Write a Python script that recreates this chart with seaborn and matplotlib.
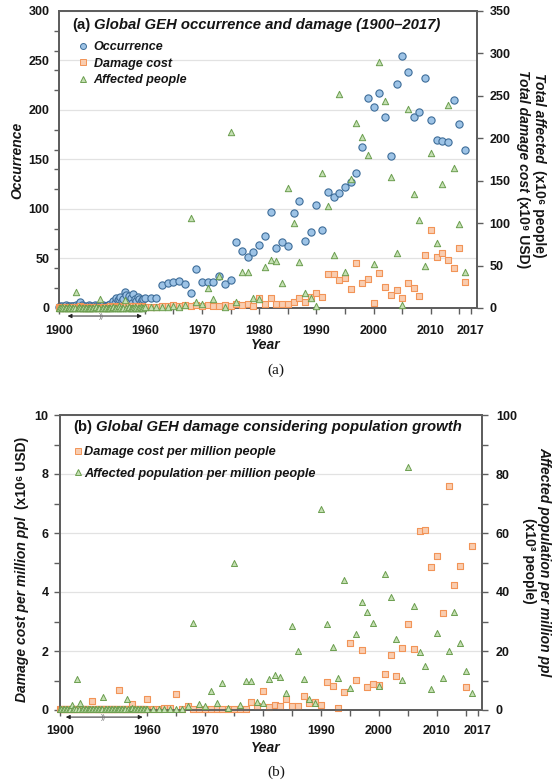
import numpy as np
import pandas as pd
import matplotlib
matplotlib.use("Agg")
import matplotlib.pyplot as plt
import seaborn as sns
from matplotlib.lines import Line2D
from matplotlib.ticker import MultipleLocator, FixedLocator

# ---------------------------------------------------------------- data
years = list(range(1900, 2017))

occurrence = [
    1, 2, 2, 1, 2, 3, 2, 1, 2, 2,
    2, 1, 3, 2, 4, 6, 3, 2, 2, 1,
    2, 3, 2, 1, 2, 3, 2, 2, 1, 2,
    2, 3, 2, 2, 3, 2, 4, 3, 7, 5,
    10, 8, 9, 11, 7, 9, 16, 13, 8, 12,
    10, 5, 14, 9, 7, 11, 9, 6, 8, 9,
    10, 10, 10, 23, 25, 26, 27, 24, 15, 39,
    26, 26, 26, 32, 24, 28, 67, 58, 52, 57,
    64, 73, 97, 61, 67, 63, 96, 108, 68, 77,
    104, 79, 117, 112, 116, 122, 127, 136, 163, 212,
    203, 217, 193, 154, 226, 255, 238, 193, 198, 232,
    190, 170, 169, 168, 210, 186, 160,
]

damage_cost = [
    1, 0, 1, 0, 1, 1, 0, 1, 0, 1,
    1, 0, 1, 1, 0, 2, 1, 0, 1, 0,
    1, 1, 0, 1, 0, 1, 1, 0, 1, 0,
    1, 0, 1, 1, 0, 1, 2, 1, 1, 2,
    1, 2, 1, 1, 2, 1, 3, 2, 1, 2,
    2, 1, 2, 1, 2, 1, 2, 1, 2, 1,
    1, 1, 1, 2, 2, 4, 2, 3, 2, 3,
    2, 3, 2, 2, 3, 2, 5, 3, 5, 2,
    12, 5, 12, 5, 5, 5, 7, 12, 7, 13,
    18, 13, 40, 40, 33, 35, 22, 53, 30, 34,
    6, 41, 25, 15, 21, 12, 29, 23, 14, 63,
    92, 60, 65, 56, 47, 71, 31,
]

affected_people = [
    0, 0, 1, 0, 0, 0, 0, 1, 0, 0,
    0, 0, 19, 0, 1, 0, 0, 0, 0, 0,
    0, 0, 0, 0, 0, 0, 1, 0, 0, 11,
    0, 0, 0, 0, 0, 0, 0, 0, 1, 0,
    0, 0, 2, 0, 0, 0, 9, 0, 0, 1,
    0, 0, 0, 1, 0, 0, 0, 1, 0, 0,
    1, 1, 1, 1, 1, 2, 1, 3, 106, 7,
    5, 24, 11, 38, 1, 207, 7, 42, 42, 12,
    11, 48, 57, 55, 29, 141, 100, 54, 18, 12,
    2, 159, 120, 62, 252, 43, 152, 218, 201, 180,
    52, 290, 244, 154, 65, 3, 235, 134, 104, 50,
    183, 77, 146, 239, 165, 99, 42,
]

damage_per_million = [
    0.02, 0.03, 0.02, 0.02, 0.03, 0.02, 0.02, 0.03, 0.02, 0.02,
    0.02, 0.03, 0.02, 0.02, 0.03, 0.02, 0.02, 0.03, 0.02, 0.02,
    0.03, 0.02, 0.30, 0.02, 0.03, 0.02, 0.02, 0.03, 0.02, 0.02,
    0.03, 0.02, 0.02, 0.03, 0.02, 0.02, 0.03, 0.02, 0.02, 0.03,
    0.02, 0.68, 0.02, 0.03, 0.02, 0.02, 0.03, 0.02, 0.02, 0.03,
    0.20, 0.02, 0.03, 0.02, 0.02, 0.03, 0.02, 0.02, 0.03, 0.02,
    0.37, 0.05, 0.05, 0.08, 0.08, 0.55, 0.05, 0.14, 0.05, 0.05,
    0.02, 0.02, 0.02, 0.02, 0.03, 0.03, 0.02, 0.03, 0.27, 0.14,
    0.65, 0.10, 0.17, 0.14, 0.37, 0.14, 0.14, 0.47, 0.23, 0.27,
    0.17, 0.95, 0.81, 0.07, 0.61, 2.27, 1.02, 2.03, 0.78, 0.88,
    0.85, 1.22, 1.86, 1.15, 2.10, 2.92, 2.07, 6.07, 6.10, 4.85,
    5.22, 3.29, 7.59, 4.24, 4.88, 0.78, 5.56,
]

affected_per_million = [
    0.2, 0.2, 0.3, 0.2, 0.2, 0.3, 0.2, 0.2, 1.7, 0.2,
    0.2, 0.3, 10.5, 0.2, 2.4, 0.2, 0.3, 0.2, 0.2, 0.3,
    0.2, 0.2, 0.3, 0.2, 0.2, 0.3, 0.2, 0.2, 0.3, 0.2,
    4.4, 0.2, 0.3, 0.2, 0.2, 0.3, 0.2, 0.2, 0.3, 0.2,
    0.2, 0.3, 0.2, 0.2, 0.3, 0.2, 3.7, 0.2, 0.3, 0.2,
    0.7, 0.2, 0.3, 0.2, 0.2, 0.3, 0.2, 0.2, 0.3, 0.2,
    0.5, 0.5, 0.3, 0.3, 0.5, 0.3, 0.3, 1.4, 29.5, 2.0,
    1.4, 6.4, 2.4, 9.2, 0.7, 50.0, 1.7, 9.8, 9.8, 2.7,
    2.4, 10.5, 11.9, 11.2, 5.8, 28.5, 20.0, 10.5, 3.7, 2.4,
    68.0, 29.0, 21.5, 10.8, 44.0, 7.5, 25.8, 36.5, 33.2, 29.5,
    8.1, 46.0, 38.3, 24.0, 10.2, 82.4, 35.3, 19.7, 14.9, 7.1,
    26.1, 10.8, 20.0, 33.2, 22.7, 13.2, 5.8,
]

x_ticks = [1900, 1960, 1970, 1980, 1990, 2000, 2010, 2017]
x_tick_labels = [str(t) for t in x_ticks]

df = pd.DataFrame({
    "year": years,
    "occurrence": occurrence,
    "damage_cost": damage_cost,
    "affected_people": affected_people,
    "damage_per_million": damage_per_million,
    "affected_per_million": affected_per_million,
})

# ---------------------------------------------------------------- style
W, H = 552, 784
sns.set_theme(style="white")
plt.rcParams["font.family"] = ["Liberation Sans", "DejaVu Sans"]
plt.rcParams["font.weight"] = "bold"
plt.rcParams["axes.unicode_minus"] = False

BLUE_FACE, BLUE_EDGE = "#9dc3e6", "#3e6d99"
ORANGE_FACE, ORANGE_EDGE = "#f9cdb0", "#f29457"
GREEN_FACE, GREEN_EDGE = "#c4dfb2", "#6b9e4f"
SPINE = "#5e5e5e"
GRID = "#e2e2e2"
INK = "#151515"

# the years before 1960 are squeezed into a short stretch of the axis
SQUEEZE = 0.25


def fwd(x):
    x = np.asarray(x, dtype=float)
    return np.where(x < 1960, (x - 1900) * SQUEEZE, 60 * SQUEEZE + (x - 1960))


def inv(u):
    u = np.asarray(u, dtype=float)
    return np.where(u < 60 * SQUEEZE, 1900 + u / SQUEEZE, 1960 + u - 60 * SQUEEZE)


def box(left, top, right, bottom):
    return [left / W, 1 - bottom / H, (right - left) / W, (bottom - top) / H]


def runs_text(fig, x, y, runs, rotation=0, size=10, gap=0.0):
    """Write consecutive text pieces with different styles along one line."""
    renderer = fig.canvas.get_renderer()
    ang = np.deg2rad(rotation)
    dx, dy = np.cos(ang), np.sin(ang)
    for s, style in runs:
        t = fig.text(x / W, 1 - y / H, s, rotation=rotation,
                     rotation_mode="anchor", ha="left", va="baseline",
                     fontsize=size, fontweight="bold", fontstyle=style,
                     color=INK)
        bb = t.get_window_extent(renderer)
        length = (bb.width if rotation % 180 == 0 else bb.height) + gap
        x += dx * length
        y -= dy * length


def style_pair(ax, ax2, xmax, xpad):
    ax.set_xscale("function", functions=(fwd, inv))
    ax.set_xlim(1900, xmax)
    for a in (ax, ax2):
        for s in a.spines.values():
            s.set_color(SPINE)
            s.set_linewidth(1.3)
        a.set_xlabel("")
        a.set_ylabel("")
    ax.set_xticks(x_ticks, labels=x_tick_labels)
    ax.xaxis.set_minor_locator(FixedLocator(list(range(1965, 2016, 10))))
    ax.tick_params(axis="x", which="both", direction="out", length=4,
                   width=1, color=SPINE, pad=xpad, labelsize=9,
                   labelcolor=INK, bottom=True)
    ax.grid(axis="y", which="major", color=GRID, linewidth=0.9)
    ax.grid(axis="x", visible=False)
    ax.set_axisbelow(True)


def break_arrow(ax, x0, x1, yfrac):
    tr = ax.get_xaxis_transform()
    ax.annotate("", xy=(x0, yfrac), xytext=(x1, yfrac), xycoords=tr,
                textcoords=tr, annotation_clip=False,
                arrowprops=dict(arrowstyle="<|-|>", lw=0.7, color="#222222",
                                mutation_scale=6, shrinkA=0, shrinkB=0))
    ax.text(1930, yfrac, "))", transform=tr, ha="center", va="center",
            fontsize=5.5, color="#777777", fontweight="normal",
            clip_on=False)


fig = plt.figure(figsize=(W / 100, H / 100), dpi=100)

# ---------------------------------------------------------------- panel (a)
ax = fig.add_axes(box(59, 11, 477, 308))
ax2 = ax.twinx()

sns.scatterplot(data=df, x="year", y="occurrence", ax=ax, marker="o", s=27,
                color=BLUE_FACE, edgecolor=BLUE_EDGE, linewidth=0.8,
                clip_on=False, legend=False, zorder=3)
sns.scatterplot(data=df, x="year", y="damage_cost", ax=ax2, marker="s", s=19,
                color=ORANGE_FACE, edgecolor=ORANGE_EDGE, linewidth=0.8,
                clip_on=False, legend=False, zorder=3)
sns.scatterplot(data=df, x="year", y="affected_people", ax=ax2, marker="^",
                s=21, color=GREEN_FACE, edgecolor=GREEN_EDGE, linewidth=0.7,
                clip_on=False, legend=False, zorder=4)

style_pair(ax, ax2, 2018.07, 8)
ax.set_ylim(0, 300)
ax.yaxis.set_major_locator(MultipleLocator(50))
ax.yaxis.set_minor_locator(MultipleLocator(20))
ax.tick_params(axis="y", which="major", length=0, pad=7, labelsize=9,
               labelcolor=INK, left=True)
ax.tick_params(axis="y", which="minor", direction="out", length=3.5,
               width=1, color=SPINE, left=True)
ax2.set_ylim(0, 350)
ax2.yaxis.set_major_locator(MultipleLocator(50))
ax2.tick_params(axis="y", which="major", direction="out", length=4, width=1,
                color=SPINE, pad=5, labelsize=9, labelcolor=INK, right=True)
break_arrow(ax, 1906, 1958, -0.027)

handles_a = [
    Line2D([], [], ls="", marker="o", markersize=4.3, mfc=BLUE_FACE,
           mec=BLUE_EDGE, mew=0.7),
    Line2D([], [], ls="", marker="s", markersize=3.8, mfc=ORANGE_FACE,
           mec=ORANGE_EDGE, mew=0.7),
    Line2D([], [], ls="", marker="^", markersize=4.3, mfc=GREEN_FACE,
           mec=GREEN_EDGE, mew=0.7),
]
leg_a = ax2.legend(handles_a, ["Occurrence", "Damage cost", "Affected people"],
                   loc="upper left", bbox_to_anchor=(78 / W, 1 - 41 / H),
                   bbox_transform=fig.transFigure, frameon=False,
                   borderpad=0, borderaxespad=0, handlelength=0.8,
                   handletextpad=0.45, labelspacing=0.36,
                   prop=dict(size=9, weight="bold", style="italic"))
for t in leg_a.get_texts():
    t.set_color(INK)

runs_text(fig, 72, 29, [("(a)", "normal"),
                        ("Global GEH occurrence and damage (1900\u20132017)",
                         "italic")], size=10.7, gap=4)
fig.text(17 / W, 1 - 160 / H, "Occurrence", rotation=90, ha="center",
         va="center", fontsize=10, fontstyle="italic", color=INK)
fig.text(266 / W, 1 - 345 / H, "Year", ha="center", va="center",
         fontsize=10, fontstyle="italic", color=INK)
runs_text(fig, 535, 73, [("Total affected", "italic"),
                         ("(x10\u2076 people)", "normal")],
          rotation=270, size=10, gap=7)
runs_text(fig, 519, 70, [("Total damage cost", "italic"),
                         ("(x10\u2079 USD)", "normal")],
          rotation=270, size=10, gap=4)
fig.text(276 / W, 1 - 370 / H, "(a)", ha="center", va="center",
         fontsize=11, fontweight="normal", family="Liberation Serif",
         color=INK)

# ---------------------------------------------------------------- panel (b)
bx = fig.add_axes(box(60, 415, 482, 710))
bx2 = bx.twinx()

sns.scatterplot(data=df, x="year", y="damage_per_million", ax=bx, marker="s",
                s=22, color=ORANGE_FACE, edgecolor=ORANGE_EDGE, linewidth=0.8,
                clip_on=False, legend=False, zorder=3)
sns.scatterplot(data=df, x="year", y="affected_per_million", ax=bx2,
                marker="^", s=19, color=GREEN_FACE, edgecolor=GREEN_EDGE,
                linewidth=0.7, clip_on=False, legend=False, zorder=4)

style_pair(bx, bx2, 2017.76, 7)
bx.set_ylim(0, 10)
bx.yaxis.set_major_locator(MultipleLocator(2))
bx.yaxis.set_minor_locator(MultipleLocator(1))
bx.tick_params(axis="y", which="both", direction="out", length=4, width=1,
               color=SPINE, pad=4.3, labelsize=9, labelcolor=INK, left=True)
bx2.set_ylim(0, 100)
bx2.yaxis.set_major_locator(MultipleLocator(20))
bx2.yaxis.set_minor_locator(MultipleLocator(10))
bx2.tick_params(axis="y", which="both", direction="out", length=4, width=1,
                color=SPINE, pad=6, labelsize=9, labelcolor=INK, right=True)
break_arrow(bx, 1904, 1957, -0.024)

handles_b = [
    Line2D([], [], ls="", marker="s", markersize=4.0, mfc=ORANGE_FACE,
           mec=ORANGE_EDGE, mew=0.7),
    Line2D([], [], ls="", marker="^", markersize=4.3, mfc=GREEN_FACE,
           mec=GREEN_EDGE, mew=0.7),
]
leg_b = bx2.legend(handles_b, ["Damage cost per million people",
                               "Affected population per million people"],
                   loc="upper left", bbox_to_anchor=(74 / W, 1 - 446 / H),
                   bbox_transform=fig.transFigure, frameon=False,
                   borderpad=0, borderaxespad=0, handlelength=0.6,
                   handletextpad=0.2, labelspacing=0.75,
                   prop=dict(size=9.2, weight="bold", style="italic"))
for t in leg_b.get_texts():
    t.set_color(INK)

runs_text(fig, 73, 431, [("(b)", "normal"),
                         ("Global GEH damage considering population growth",
                          "italic")], size=10.7, gap=4)
runs_text(fig, 26, 702, [("Damage cost per million ppl", "italic"),
                         ("(x10\u2076 USD)", "normal")],
          rotation=90, size=10, gap=7)
fig.text(544 / W, 1 - 562 / H, "Affected population per million ppl",
         rotation=270, ha="center", va="center", fontsize=10,
         fontstyle="italic", color=INK)
fig.text(529 / W, 1 - 561 / H, "(x10\u00b3 people)", rotation=270,
         ha="center", va="center", fontsize=10, color=INK)
fig.text(266 / W, 1 - 748 / H, "Year", ha="center", va="center",
         fontsize=10, fontstyle="italic", color=INK)
fig.text(276 / W, 1 - 772 / H, "(b)", ha="center", va="center",
         fontsize=11, fontweight="normal", family="Liberation Serif",
         color=INK)

fig.savefig("out.png", dpi=100)
